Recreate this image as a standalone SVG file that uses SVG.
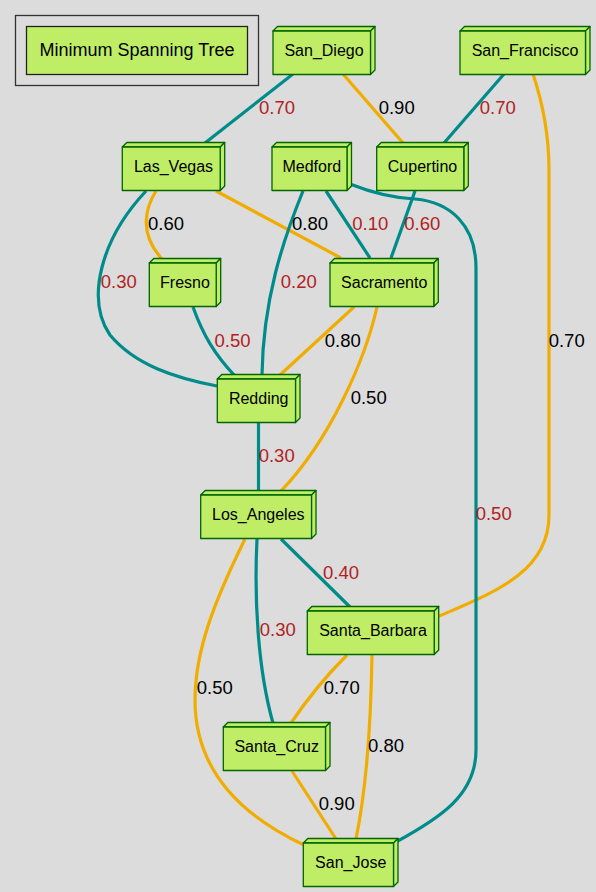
<svg xmlns="http://www.w3.org/2000/svg" width="596" height="892" viewBox="0 0 596 892">
<style>
.bg{fill:#dcdcdc}
.nf{fill:#bfee66;stroke:#006400;stroke-width:1.3;stroke-linejoin:round}
.nt{font-family:"Liberation Sans",Arial,sans-serif;font-size:16px;fill:#000;text-anchor:middle}
.e{fill:none;stroke-width:3.2}
.t{stroke:#008b8b}
.o{stroke:#f0ad00}
.lb{font-family:"Liberation Sans",Arial,sans-serif;font-size:18.5px;text-anchor:middle}
.r{fill:#b22222}
.k{fill:#000}
</style>
<rect class="bg" x="0" y="0" width="596" height="892"/>
<g id="title">
<rect x="15.5" y="15.5" width="243" height="70" fill="none" stroke="#333" stroke-width="1.3"/>
<rect x="26.5" y="26.5" width="221" height="48" fill="#bfee66" stroke="#222" stroke-width="1.3"/>
<text x="137" y="56" font-family="Liberation Sans, Arial, sans-serif" font-size="18" text-anchor="middle">Minimum Spanning Tree</text>
</g>
<g id="edges">
<path class="e t" d="M293,74 L205,143"/>
<path class="e o" d="M343,74 L403,143"/>
<path class="e t" d="M504,74 L444,143"/>
<path class="e o" d="M533,74 C545,110 549,140 549,170 L549,515 C549,572 495,592 437,617"/>
<path class="e o" d="M156,191 C144,210 140,235 162,259"/>
<path class="e t" d="M146,191 C100,240 86,300 110,335 C135,365 175,378 217,386"/>
<path class="e o" d="M216,191 L341,258"/>
<path class="e t" d="M303,191 C283,240 263,300 262,375"/>
<path class="e t" d="M326,191 L370,258"/>
<path class="e t" d="M415,191 L391,258"/>
<path class="e t" d="M350,184 C375,194 395,198 415,199 C450,202 476,225 476,268 L476,750 C476,795 440,818 396,842"/>
<path class="e t" d="M193,307 C203,335 215,355 235,376"/>
<path class="e o" d="M354,307 L280,375"/>
<path class="e o" d="M377,307 C365,360 330,440 281,491"/>
<path class="e t" d="M258.5,423 L258.5,491"/>
<path class="e t" d="M281,539 L350,607"/>
<path class="e t" d="M257,539 C254,600 258,670 273,723"/>
<path class="e o" d="M245,539 C215,600 195,650 195,700 C195,770 240,815 304,845"/>
<path class="e o" d="M347,655 C330,672 310,695 291,723"/>
<path class="e o" d="M372,655 C371,720 366,790 356,839"/>
<path class="e o" d="M292,771 L336,839"/>
<text class="lb r" x="277" y="114.3">0.70</text>
<text class="lb k" x="396.7" y="114.3">0.90</text>
<text class="lb r" x="497.8" y="114.3">0.70</text>
<text class="lb k" x="166" y="230">0.60</text>
<text class="lb k" x="310" y="230">0.80</text>
<text class="lb r" x="370.3" y="230">0.10</text>
<text class="lb r" x="422.3" y="230">0.60</text>
<text class="lb r" x="118.8" y="288.3">0.30</text>
<text class="lb r" x="298.8" y="288.3">0.20</text>
<text class="lb r" x="232.5" y="346.6">0.50</text>
<text class="lb k" x="342.8" y="346.6">0.80</text>
<text class="lb k" x="566.7" y="346.6">0.70</text>
<text class="lb k" x="368.7" y="404.3">0.50</text>
<text class="lb r" x="276.7" y="462.3">0.30</text>
<text class="lb r" x="493.7" y="520">0.50</text>
<text class="lb r" x="341" y="578.5">0.40</text>
<text class="lb r" x="277.8" y="636">0.30</text>
<text class="lb k" x="214.8" y="694.3">0.50</text>
<text class="lb k" x="341.7" y="694.3">0.70</text>
<text class="lb k" x="386" y="751.6">0.80</text>
<text class="lb k" x="336.7" y="810">0.90</text>
</g>
<g id="San_Diego">
<polygon class="nf" points="273,31 277.5,26.5 375,26.5 370.5,31"/>
<polygon class="nf" points="370.5,31 375,26.5 375,70 370.5,74.5"/>
<rect class="nf" x="273" y="31" width="97.5" height="43.5"/>
<text class="nt" x="324" y="55.5">San_Diego</text>
</g>
<g id="San_Francisco">
<polygon class="nf" points="460,31 464.5,26.5 590,26.5 585.5,31"/>
<polygon class="nf" points="585.5,31 590,26.5 590,70 585.5,74.5"/>
<rect class="nf" x="460" y="31" width="125.5" height="43.5"/>
<text class="nt" x="525" y="55.5">San_Francisco</text>
</g>
<g id="Las_Vegas">
<polygon class="nf" points="122.3,147 126.8,142.5 224.7,142.5 220.2,147"/>
<polygon class="nf" points="220.2,147 224.7,142.5 224.7,186 220.2,190.5"/>
<rect class="nf" x="122.3" y="147" width="97.9" height="43.5"/>
<text class="nt" x="173.5" y="171.5">Las_Vegas</text>
</g>
<g id="Medford">
<polygon class="nf" points="272,147 276.5,142.5 351.5,142.5 347,147"/>
<polygon class="nf" points="347,147 351.5,142.5 351.5,186 347,190.5"/>
<rect class="nf" x="272" y="147" width="75" height="43.5"/>
<text class="nt" x="311.8" y="171.5">Medford</text>
</g>
<g id="Cupertino">
<polygon class="nf" points="376.7,147 381.2,142.5 468.3,142.5 463.8,147"/>
<polygon class="nf" points="463.8,147 468.3,142.5 468.3,186 463.8,190.5"/>
<rect class="nf" x="376.7" y="147" width="87.1" height="43.5"/>
<text class="nt" x="422.5" y="171.5">Cupertino</text>
</g>
<g id="Fresno">
<polygon class="nf" points="149.3,263 153.8,258.5 220.7,258.5 216.2,263"/>
<polygon class="nf" points="216.2,263 220.7,258.5 220.7,302 216.2,306.5"/>
<rect class="nf" x="149.3" y="263" width="66.9" height="43.5"/>
<text class="nt" x="185" y="287.5">Fresno</text>
</g>
<g id="Sacramento">
<polygon class="nf" points="330,263 334.5,258.5 438.3,258.5 433.8,263"/>
<polygon class="nf" points="433.8,263 438.3,258.5 438.3,302 433.8,306.5"/>
<rect class="nf" x="330" y="263" width="103.8" height="43.5"/>
<text class="nt" x="384.2" y="287.5">Sacramento</text>
</g>
<g id="Redding">
<polygon class="nf" points="217.3,379 221.8,374.5 300,374.5 295.5,379"/>
<polygon class="nf" points="295.5,379 300,374.5 300,418 295.5,422.5"/>
<rect class="nf" x="217.3" y="379" width="78.2" height="43.5"/>
<text class="nt" x="258.7" y="403.5">Redding</text>
</g>
<g id="Los_Angeles">
<polygon class="nf" points="200.7,495 205.2,490.5 316,490.5 311.5,495"/>
<polygon class="nf" points="311.5,495 316,490.5 316,534 311.5,538.5"/>
<rect class="nf" x="200.7" y="495" width="110.8" height="43.5"/>
<text class="nt" x="258.3" y="519.5">Los_Angeles</text>
</g>
<g id="Santa_Barbara">
<polygon class="nf" points="307.3,611 311.8,606.5 438.7,606.5 434.2,611"/>
<polygon class="nf" points="434.2,611 438.7,606.5 438.7,650 434.2,654.5"/>
<rect class="nf" x="307.3" y="611" width="126.9" height="43.5"/>
<text class="nt" x="373" y="635.5">Santa_Barbara</text>
</g>
<g id="Santa_Cruz">
<polygon class="nf" points="223.3,727 227.8,722.5 330,722.5 325.5,727"/>
<polygon class="nf" points="325.5,727 330,722.5 330,766 325.5,770.5"/>
<rect class="nf" x="223.3" y="727" width="102.2" height="43.5"/>
<text class="nt" x="276.7" y="751.5">Santa_Cruz</text>
</g>
<g id="San_Jose">
<polygon class="nf" points="303.3,843 307.8,838.5 398,838.5 393.5,843"/>
<polygon class="nf" points="393.5,843 398,838.5 398,882 393.5,886.5"/>
<rect class="nf" x="303.3" y="843" width="90.2" height="43.5"/>
<text class="nt" x="350.7" y="867.5">San_Jose</text>
</g>
</svg>
